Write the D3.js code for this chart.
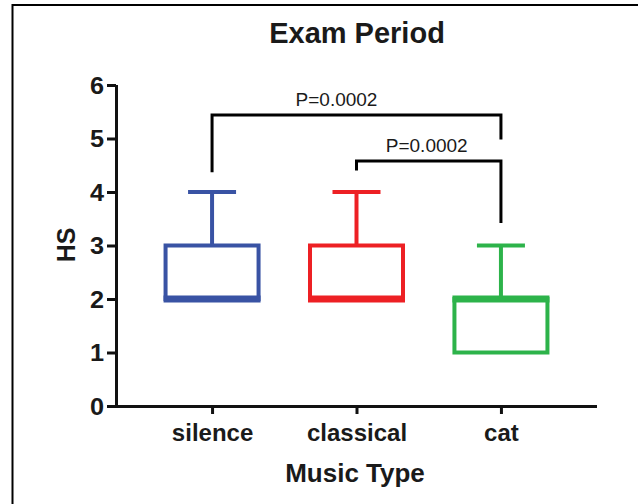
<!DOCTYPE html>
<html>
<head>
<meta charset="utf-8">
<script src="https://cdn.jsdelivr.net/npm/d3@7"></script>
<style>
  body { margin: 0; background: #fff; }
  svg { display: block; font-family: "Liberation Sans", Arial, sans-serif; }
</style>
</head>
<body>
<div id="chart"></div>
<script>
// data
const categories = ['silence', 'classical', 'cat'];
const colors = ['#3953a4', '#ed2024', '#2db34a'];
const mins    = [2, 2, 1];
const q1s     = [2, 2, 1];
const medians = [2, 2, 2];
const q3s     = [3, 3, 2];
const maxs    = [4, 4, 3];
const yTicks  = [0, 1, 2, 3, 4, 5, 6];

// significance brackets: from, to, bar height, leg ends, label
const brackets = [
  { from: 'silence', to: 'cat', y: 5.44, y1: 4.37, y2: 4.98, label: 'P=0.0002', dx: -20 },
  { from: 'classical', to: 'cat', y: 4.58, y1: 4.4, y2: 3.42, label: 'P=0.0002', dx: -2 }
];

const W = 638, H = 504;
const margin = { top: 85, right: 41, bottom: 98, left: 116 };
const width = W - margin.left - margin.right;
const height = H - margin.top - margin.bottom;

const svg = d3.select('#chart').append('svg')
  .attr('width', W)
  .attr('height', H);

// frame
svg.append('path')
  .attr('d', `M12.5,${H} L12.5,5 L${W},5`)
  .attr('fill', 'none')
  .attr('stroke', '#000')
  .attr('stroke-width', 2);

const g = svg.append('g')
  .attr('transform', `translate(${margin.left},${margin.top})`);

const x = d3.scalePoint()
  .domain(categories)
  .range([0, width])
  .padding(0.665);

const y = d3.scaleLinear()
  .domain([0, 6])
  .range([height, 0]);

// axes
const yAxis = g.append('g')
  .call(d3.axisLeft(y).tickValues(yTicks).tickSize(9).tickPadding(2).tickFormat(d3.format('d')));
const xAxis = g.append('g')
  .attr('transform', `translate(0,${height})`)
  .call(d3.axisBottom(x).tickSize(8).tickPadding(10));

yAxis.select('.domain').attr('d', `M0.5,0V${height}`);
xAxis.select('.domain').attr('d', `M0,0.5H${width}`);
[yAxis, xAxis].forEach(a => {
  a.select('.domain').attr('stroke-width', 3).attr('stroke', '#111');
  a.selectAll('.tick line').attr('stroke-width', 3).attr('stroke', '#111');
  a.selectAll('.tick text')
    .attr('fill', '#1a1a1a')
    .style('font-weight', 'bold');
});
// digits in the reference are a bit wider than Arial, stretch them
const stretch = 1.1;
yAxis.selectAll('.tick text')
  .style('font-size', '23px')
  .attr('dy', '0.36em')
  .attr('x', -12 / stretch)
  .attr('transform', `scale(${stretch},1)`);
xAxis.selectAll('.tick text').style('font-size', '24px');

// boxes
const boxHalf = 46.5, capHalf = 24;
const boxes = g.selectAll('.box')
  .data(categories)
  .enter()
  .append('g')
  .attr('class', 'box')
  .attr('stroke', (d, i) => colors[i])
  .attr('fill', 'none')
  .attr('stroke-width', 4);

boxes.append('rect')
  .attr('x', d => x(d) - boxHalf)
  .attr('width', boxHalf * 2)
  .attr('y', (d, i) => y(q3s[i]))
  .attr('height', (d, i) => y(q1s[i]) - y(q3s[i]));

// median line (thicker)
boxes.append('line')
  .attr('x1', d => x(d) - boxHalf - 2)
  .attr('x2', d => x(d) + boxHalf + 2)
  .attr('y1', (d, i) => y(medians[i]))
  .attr('y2', (d, i) => y(medians[i]))
  .attr('stroke-width', 7);

// whiskers
boxes.append('line')
  .attr('x1', d => x(d)).attr('x2', d => x(d))
  .attr('y1', (d, i) => y(q3s[i]))
  .attr('y2', (d, i) => y(maxs[i]));
boxes.append('line')
  .attr('x1', d => x(d) - capHalf).attr('x2', d => x(d) + capHalf)
  .attr('y1', (d, i) => y(maxs[i]))
  .attr('y2', (d, i) => y(maxs[i]));
boxes.append('line')
  .attr('x1', d => x(d)).attr('x2', d => x(d))
  .attr('y1', (d, i) => y(q1s[i]))
  .attr('y2', (d, i) => y(mins[i]));

// brackets
const br = g.selectAll('.bracket')
  .data(brackets)
  .enter()
  .append('g')
  .attr('class', 'bracket');

br.append('path')
  .attr('d', d => `M${x(d.from)},${y(d.y1)} V${y(d.y)} H${x(d.to)} V${y(d.y2)}`)
  .attr('fill', 'none')
  .attr('stroke', '#000')
  .attr('stroke-width', 3);

br.append('text')
  .attr('x', d => (x(d.from) + x(d.to)) / 2 + d.dx)
  .attr('y', d => y(d.y) - 9)
  .attr('text-anchor', 'middle')
  .attr('fill', '#1a1a1a')
  .style('font-size', '19px')
  .text(d => d.label);

// titles
svg.append('text')
  .attr('x', 357)
  .attr('y', 43)
  .attr('text-anchor', 'middle')
  .attr('fill', '#1a1a1a')
  .style('font-size', '29px')
  .style('font-weight', 'bold')
  .text('Exam Period');

svg.append('text')
  .attr('x', 355)
  .attr('y', 482)
  .attr('text-anchor', 'middle')
  .attr('fill', '#1a1a1a')
  .style('font-size', '26px')
  .style('font-weight', 'bold')
  .text('Music Type');

svg.append('text')
  .attr('transform', 'translate(75,245) rotate(-90)')
  .attr('text-anchor', 'middle')
  .attr('fill', '#1a1a1a')
  .style('font-size', '25px')
  .style('font-weight', 'bold')
  .text('HS');
</script>
</body>
</html>
